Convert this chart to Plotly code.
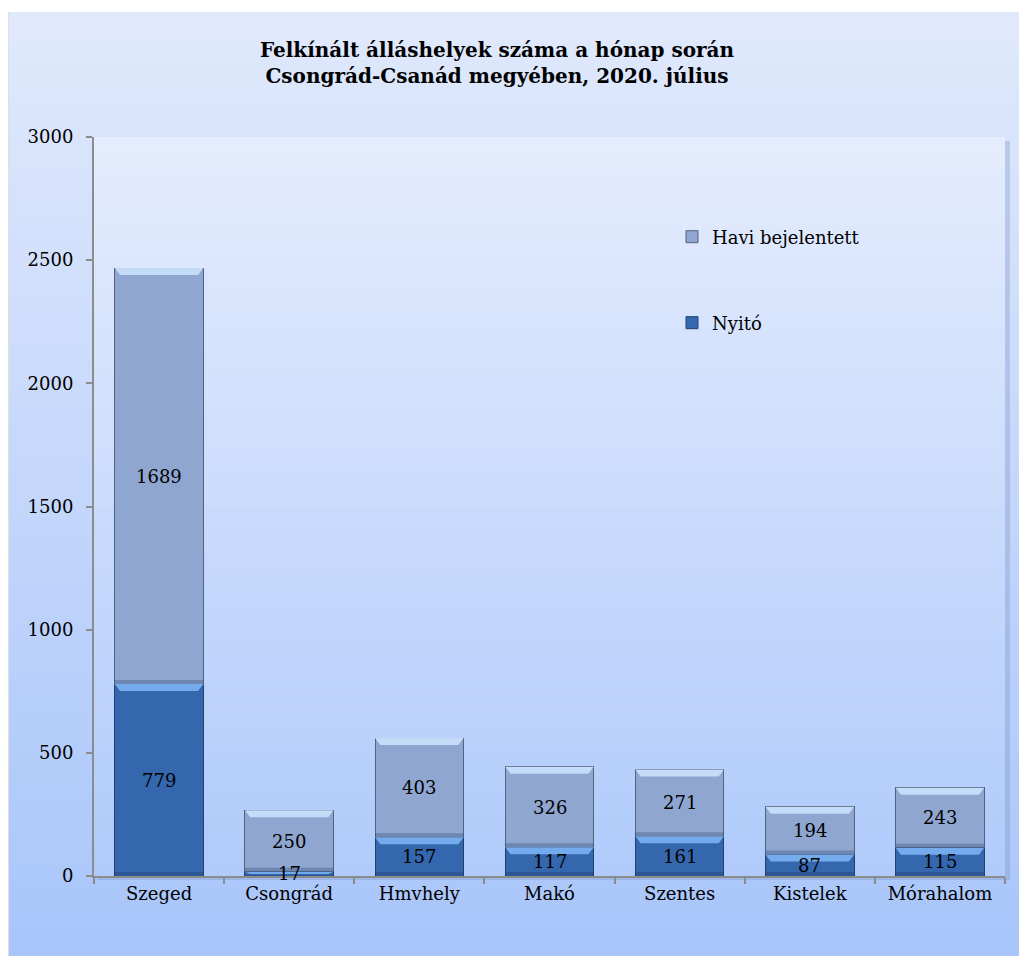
import plotly.graph_objects as go

categories = ["Szeged", "Csongrád", "Hmvhely", "Makó", "Szentes", "Kistelek", "Mórahalom"]
nyito = [779, 17, 157, 117, 161, 87, 115]
havi = [1689, 250, 403, 326, 271, 194, 243]
y_ticks = [0, 500, 1000, 1500, 2000, 2500, 3000]

# page has an 8px body margin; figure coordinates = screen - 8
OFF = 8
W, H = 1027 - OFF, 956 - OFF
L, T = 94 - OFF, 137 - OFF
PR, PB = 1005 - OFF, 876 - OFF
R, B = W - PR, H - PB
pw, ph = PR - L, PB - T
YMAX = 3000
BARW = 0.68

def sx(px):  # screen px -> paper x
    return (px - OFF - L) / pw

def sy(py):  # screen px -> paper y
    return (PB - (py - OFF)) / ph

def lerp(c1, c2, t):
    return "rgb(%d,%d,%d)" % tuple(round(a + (b - a) * t) for a, b in zip(c1, c2))

shapes = []
# outer frame gradient
top_c, bot_c = (224, 233, 252), (168, 197, 250)
n = 60
fy0, fy1 = 12, 960
for i in range(n):
    ya = fy0 + (fy1 - fy0) * i / n
    yb = fy0 + (fy1 - fy0) * (i + 1) / n + 1
    shapes.append(dict(type="rect", xref="paper", yref="paper",
                       x0=sx(9), x1=sx(1030), y0=sy(yb), y1=sy(ya),
                       fillcolor=lerp(top_c, bot_c, i / (n - 1)), line_width=0, layer="below"))
shapes.append(dict(type="rect", xref="paper", yref="paper",
                   x0=sx(6), x1=sx(9), y0=sy(960), y1=sy(12),
                   fillcolor="rgba(190,190,200,0.5)", line_width=0, layer="below"))
# plot-area shadow
shapes.append(dict(type="rect", xref="paper", yref="paper",
                   x0=sx(97), x1=sx(1010), y0=sy(880), y1=sy(141),
                   fillcolor="rgba(120,140,190,0.30)", line_width=0, layer="below"))
# plot-area gradient
ptop, pbot = (228, 236, 253), (176, 203, 251)
m = 50
for i in range(m):
    ya = T + ph * i / m
    yb = min(T + ph * (i + 1) / m + 1, PB)
    shapes.append(dict(type="rect", xref="paper", yref="paper", x0=0, x1=1,
                       y0=(PB - yb) / ph, y1=(PB - ya) / ph,
                       fillcolor=lerp(ptop, pbot, i / (m - 1)), line_width=0, layer="below"))

# bevel highlights on bar segments (derived from the data)
unit = YMAX / ph  # data units per pixel
for i, (a, b) in enumerate(zip(nyito, havi)):
    for base, val, hi in ((0, a, "rgba(120,175,240,0.95)"), (a, b, "rgba(200,222,250,0.95)")):
        top = base + val
        h = min(7 * unit, val * 0.5)
        shapes.append(dict(type="path", xref="x", yref="y", layer="above",
                           path="M %f,%f L %f,%f L %f,%f L %f,%f Z" % (
                               i - BARW / 2, top, i + BARW / 2, top,
                               i + BARW / 2 - 0.04, top - h, i - BARW / 2 + 0.04, top - h),
                           fillcolor=hi, line_width=0))
        hb = min(4 * unit, val * 0.3)
        shapes.append(dict(type="rect", xref="x", yref="y", layer="above",
                           x0=i - BARW / 2, x1=i + BARW / 2, y0=base, y1=base + hb,
                           fillcolor="rgba(20,40,80,0.25)", line_width=0))

font = "DejaVu Serif, Liberation Serif, serif"
fig = go.Figure()
fig.add_trace(go.Bar(x=categories, y=nyito, name="Nyitó", width=BARW,
                     marker=dict(color="#3467ad", line=dict(color="#23406c", width=1)),
                     legend="legend2", showlegend=True, hoverinfo="x+y"))
fig.add_trace(go.Bar(x=categories, y=havi, name="Havi bejelentett", width=BARW,
                     marker=dict(color="#8ea6d0", line=dict(color="#55627e", width=1)),
                     legend="legend", showlegend=True, hoverinfo="x+y"))

# value labels as annotations (drawn above the bevel shapes)
lab_font = dict(family=font, size=18, color="#000000")
annotations = []
for c, a, b in zip(categories, nyito, havi):
    annotations.append(dict(x=c, y=a / 2, xref="x", yref="y", text=str(a), showarrow=False,
                            font=lab_font, xanchor="center", yanchor="middle"))
    annotations.append(dict(x=c, y=a + b / 2, xref="x", yref="y", text=str(b), showarrow=False,
                            font=lab_font, xanchor="center", yanchor="middle"))

fig.update_layout(
    width=W, height=H,
    margin=dict(l=L, r=R, t=T, b=B, autoexpand=False),
    paper_bgcolor="white", plot_bgcolor="rgba(0,0,0,0)",
    barmode="stack", showlegend=True,
    font=dict(family=font, size=17, color="#000000"),
    title=dict(text="<b>Felkínált álláshelyek száma a hónap során<br>Csongrád-Csanád megyében, 2020. július</b>",
               x=(497 - OFF) / W, xanchor="center", y=1 - (57 - OFF) / H, yanchor="middle",
               font=dict(family=font, size=20, color="#000000")),
    xaxis=dict(showline=True, linecolor="#8c8c8c", linewidth=2, ticks="outside",
               tickson="boundaries", ticklen=6, tickcolor="#8c8c8c", tickwidth=2,
               showgrid=False, tickfont=dict(size=18), range=[-0.5, 6.5]),
    yaxis=dict(range=[0, YMAX], tickvals=y_ticks, showline=True, linecolor="#8c8c8c",
               linewidth=2, ticks="outside", ticklen=6, tickcolor="#8c8c8c", tickwidth=2,
               showgrid=False, zeroline=False, ticklabelstandoff=9, tickfont=dict(size=18)),
    legend=dict(x=sx(672), y=sy(237), xanchor="left", yanchor="middle", visible=True,
                bgcolor="rgba(0,0,0,0)", font=dict(size=18)),
    legend2=dict(x=sx(672), y=sy(323), xanchor="left", yanchor="middle", visible=True,
                 bgcolor="rgba(0,0,0,0)", font=dict(size=18)),
    shapes=shapes,
    annotations=annotations,
)

fig.write_html("out.html")
